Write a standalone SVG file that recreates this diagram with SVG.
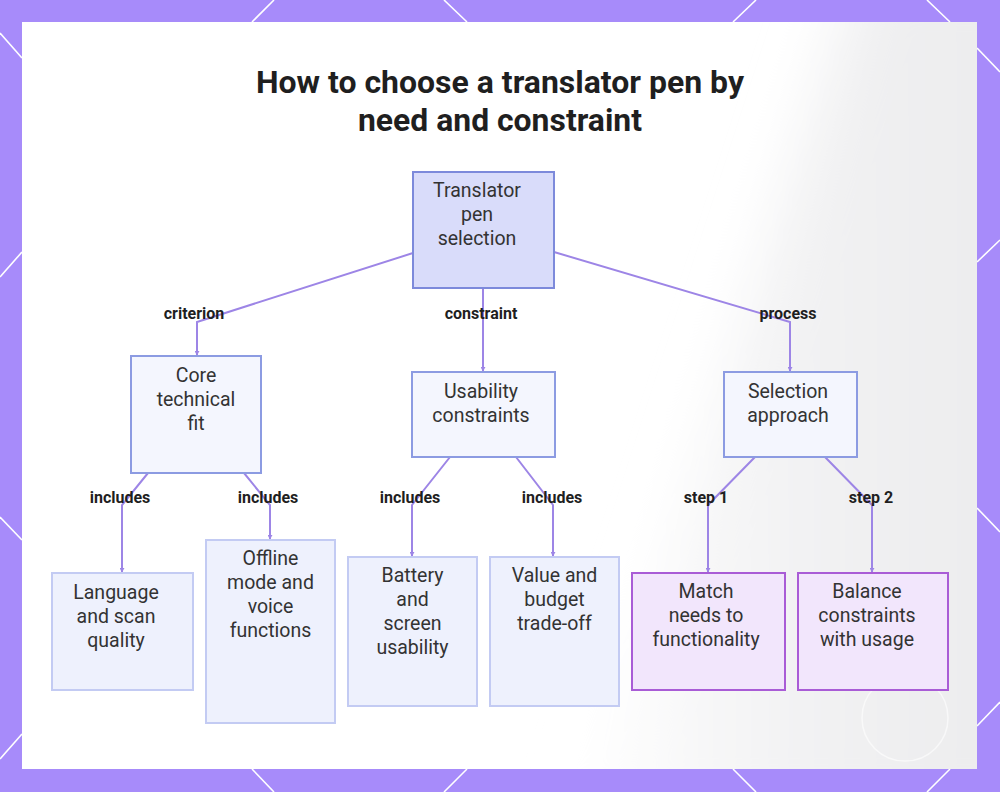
<svg xmlns="http://www.w3.org/2000/svg" width="1000" height="792" viewBox="0 0 1000 792">
  <defs>
    <style>
      .title { font-family: Roboto, "Liberation Sans", sans-serif; font-weight: 700; font-size: 31px; fill: #1f1f1f; text-anchor: middle; }
      .nt { font-family: Roboto, "Liberation Sans", sans-serif; font-size: 19.5px; fill: #333333; text-anchor: middle; }
      .el { font-family: Roboto, "Liberation Sans", sans-serif; font-weight: 700; font-size: 16px; fill: #1f1f1f; text-anchor: middle; }
      .root { fill: #D9DCFA; stroke: #7D8ADB; stroke-width: 2; }
      .mid { fill: #F4F6FE; stroke: #8C9BE2; stroke-width: 2; }
      .leaf { fill: #EEF1FD; stroke: #C3CBF3; stroke-width: 2; }
      .step { fill: #F2E6FC; stroke: #A95CD6; stroke-width: 2; }
      .edge { fill: none; stroke: #9D85E6; stroke-width: 2; marker-end: url(#arr); }
      .hex { stroke: #FFFFFF; stroke-width: 1.6; fill: none; }
    </style>
    <marker id="arr" viewBox="0 0 6 6" refX="5" refY="3" markerWidth="5" markerHeight="5" orient="auto" markerUnits="userSpaceOnUse">
      <path d="M0,0 L6,3 L0,6 Z" fill="#9D85E6"/>
    </marker>
    <linearGradient id="bg" x1="0" y1="0" x2="1" y2="0">
      <stop offset="0" stop-color="#FFFFFF"/>
      <stop offset="0.4" stop-color="#F3F3F4"/>
      <stop offset="1" stop-color="#EAEAEC"/>
    </linearGradient>
    <filter id="blur" x="-30%" y="-30%" width="160%" height="160%">
      <feGaussianBlur stdDeviation="30"/>
    </filter>
    <clipPath id="panel">
      <rect x="22" y="22" width="955" height="747"/>
    </clipPath>
  </defs>

  <!-- border -->
  <rect x="0" y="0" width="1000" height="792" fill="#A78BFA"/>
  <g class="hex">
    <line x1="252" y1="22" x2="274" y2="0"/>
    <line x1="444" y1="0" x2="467" y2="22"/>
    <line x1="733" y1="22" x2="756" y2="0"/>
    <line x1="927" y1="0" x2="950" y2="22"/>
    <line x1="252" y1="769" x2="274" y2="792"/>
    <line x1="467" y1="769" x2="444" y2="792"/>
    <line x1="733" y1="769" x2="756" y2="792"/>
    <line x1="950" y1="769" x2="927" y2="792"/>
    <line x1="0" y1="33" x2="22" y2="58"/>
    <line x1="22" y1="252" x2="0" y2="277"/>
    <line x1="0" y1="517" x2="22" y2="540"/>
    <line x1="22" y1="734" x2="0" y2="759"/>
    <line x1="977" y1="48" x2="1000" y2="72"/>
    <line x1="977" y1="262" x2="1000" y2="240"/>
    <line x1="977" y1="508" x2="1000" y2="532"/>
    <line x1="977" y1="726" x2="1000" y2="702"/>
  </g>

  <!-- panel -->
  <rect x="22" y="22" width="955" height="747" fill="#FFFFFF"/>
  <g clip-path="url(#panel)">
    <polygon points="860,-40 1060,-40 1060,830 580,830" fill="url(#bg)" filter="url(#blur)"/>
    <circle cx="905" cy="718" r="43" fill="none" stroke="#FFFFFF" stroke-width="1.5" opacity="0.6"/>
  </g>

  <!-- title -->
  <text class="title" x="500" y="93" textLength="488" lengthAdjust="spacingAndGlyphs">How to choose a translator pen by</text>
  <text class="title" x="500" y="131" textLength="284" lengthAdjust="spacingAndGlyphs">need and constraint</text>

  <!-- connectors -->
  <g id="connectors">
    <path class="edge" d="M413,253 L197,322 L197,355"/>
    <path class="edge" d="M483,288 L483,371"/>
    <path class="edge" d="M554,252 L790,322 L790,371"/>
    <path class="edge" d="M148,473 L122,505 L122,572"/>
    <path class="edge" d="M244,473 L270,505 L270,539"/>
    <path class="edge" d="M450,457 L412,505 L412,556"/>
    <path class="edge" d="M516,457 L553,505 L553,556"/>
    <path class="edge" d="M755,457 L708,505 L708,572"/>
    <path class="edge" d="M825,457 L872,505 L872,572"/>
    <text class="el" x="194" y="319">criterion</text>
    <text class="el" x="481" y="319">constraint</text>
    <text class="el" x="788" y="319">process</text>
    <text class="el" x="120" y="503">includes</text>
    <text class="el" x="268" y="503">includes</text>
    <text class="el" x="410" y="503">includes</text>
    <text class="el" x="552" y="503">includes</text>
    <text class="el" x="706" y="503">step 1</text>
    <text class="el" x="871" y="503">step 2</text>
  </g>

  <!-- nodes -->
  <g id="node-root">
    <rect class="root" x="413" y="172" width="141" height="116"/>
    <text class="nt" x="477" y="197">Translator</text>
    <text class="nt" x="477" y="221">pen</text>
    <text class="nt" x="477" y="245">selection</text>
  </g>
  <g id="node-core">
    <rect class="mid" x="131" y="356" width="130" height="117"/>
    <text class="nt" x="196" y="382">Core</text>
    <text class="nt" x="196" y="406">technical</text>
    <text class="nt" x="196" y="430">fit</text>
  </g>
  <g id="node-usability">
    <rect class="mid" x="412" y="372" width="143" height="85"/>
    <text class="nt" x="481" y="398">Usability</text>
    <text class="nt" x="481" y="422">constraints</text>
  </g>
  <g id="node-selection">
    <rect class="mid" x="724" y="372" width="133" height="85"/>
    <text class="nt" x="788" y="398">Selection</text>
    <text class="nt" x="788" y="422">approach</text>
  </g>
  <g id="node-language">
    <rect class="leaf" x="52" y="573" width="141" height="117"/>
    <text class="nt" x="116" y="599">Language</text>
    <text class="nt" x="116" y="623">and scan</text>
    <text class="nt" x="116" y="647">quality</text>
  </g>
  <g id="node-offline">
    <rect class="leaf" x="206" y="540" width="129" height="183"/>
    <text class="nt" x="270.5" y="565">Offline</text>
    <text class="nt" x="270.5" y="589">mode and</text>
    <text class="nt" x="270.5" y="613">voice</text>
    <text class="nt" x="270.5" y="637">functions</text>
  </g>
  <g id="node-battery">
    <rect class="leaf" x="348" y="557" width="129" height="149"/>
    <text class="nt" x="412.5" y="582">Battery</text>
    <text class="nt" x="412.5" y="606">and</text>
    <text class="nt" x="412.5" y="630">screen</text>
    <text class="nt" x="412.5" y="654">usability</text>
  </g>
  <g id="node-value">
    <rect class="leaf" x="490" y="557" width="129" height="149"/>
    <text class="nt" x="554.5" y="582">Value and</text>
    <text class="nt" x="554.5" y="606">budget</text>
    <text class="nt" x="554.5" y="630">trade-off</text>
  </g>
  <g id="node-match">
    <rect class="step" x="632" y="573" width="153" height="117"/>
    <text class="nt" x="706" y="598">Match</text>
    <text class="nt" x="706" y="622">needs to</text>
    <text class="nt" x="706" y="646">functionality</text>
  </g>
  <g id="node-balance">
    <rect class="step" x="798" y="573" width="150" height="117"/>
    <text class="nt" x="867" y="598">Balance</text>
    <text class="nt" x="867" y="622">constraints</text>
    <text class="nt" x="867" y="646">with usage</text>
  </g>
</svg>
